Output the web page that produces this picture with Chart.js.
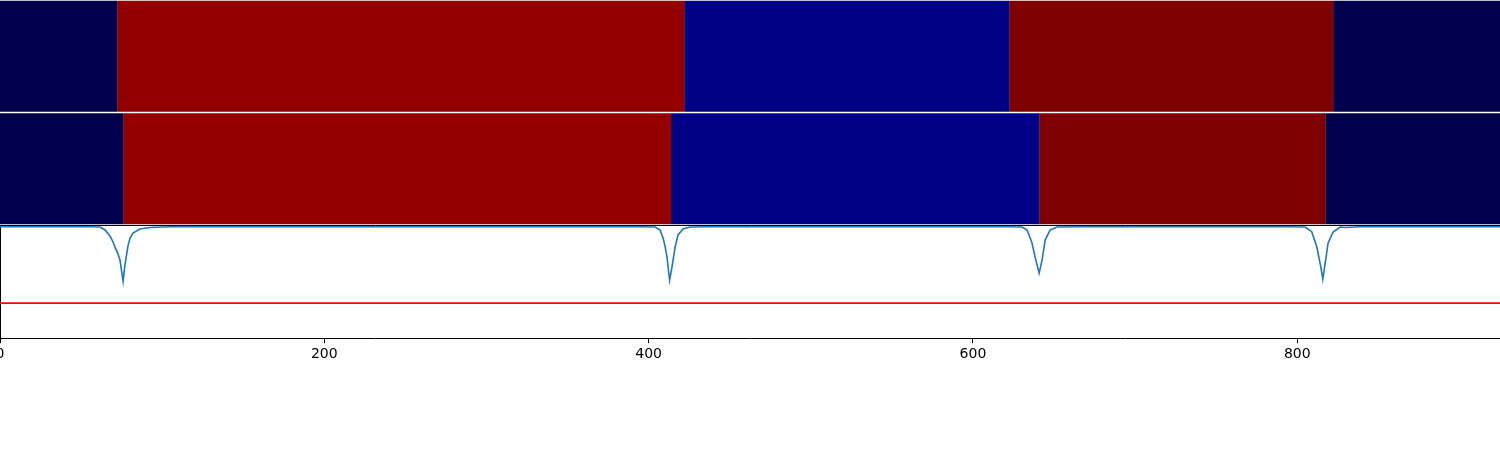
<!DOCTYPE html>
<html>
<head>
<meta charset="utf-8">
<script src="https://cdn.jsdelivr.net/npm/chart.js@4.4.1/dist/chart.umd.min.js"></script>
<style>
  html, body { margin: 0; padding: 0; background: #fff; overflow: hidden; }
  body { width: 1500px; height: 450px; position: relative; }
  #rowsBox { position: absolute; left: 0; top: 0; width: 1500px; height: 225px; }
  #lineBox { position: absolute; left: -50px; top: 225px; width: 1600px; height: 225px; }
</style>
</head>
<body>
<div id="rowsBox"><canvas id="rowsChart"></canvas></div>
<div id="lineBox"><canvas id="lineChart"></canvas></div>
<script>
// x range shared by all three panels
const xMin = 0;
const xMax = 925;
const xTicks = [0, 200, 400, 600, 800];

// segments of the two colour rows, [start, end]
const rowNames = ['top', 'middle'];
const topRow = [[0, 72.2], [72.2, 421.9], [421.9, 622.3], [622.3, 822.1], [822.1, 925]];
const midRow = [[0, 75.9], [75.9, 413.8], [413.8, 640.8], [640.8, 817.2], [817.2, 925]];
const segColors = ['#00004c', '#920000', '#000085', '#7f0000', '#00004c'];

// bottom panel: signal
const signalX = [0, 55.5, 61.7, 64.8, 67.8, 69.7, 70.9, 72.8, 74.0, 74.9, 75.9, 76.8, 77.7, 78.9, 80.2, 82.0, 86.3, 92.5, 104.8,
  394.7, 404.0, 407.0, 408.9, 410.1, 411.3, 412.9, 414.4, 416.3, 418.1, 421.2, 425.5, 437.9,
  622.9, 630.3, 633.4, 636.4, 638.3, 640.8, 642.6, 644.5, 647.6, 651.9, 663.0,
  795.6, 804.8, 808.9, 812.0, 814.5, 815.7, 817.2, 819.0, 822.1, 826.4, 829.5, 838.7, 925];
const signalY = [0.985, 0.985, 0.982, 0.956, 0.903, 0.850, 0.805, 0.743, 0.690, 0.602, 0.504, 0.619, 0.708, 0.814, 0.885, 0.929, 0.965, 0.978, 0.984,
  0.985, 0.982, 0.956, 0.885, 0.814, 0.717, 0.513, 0.628, 0.805, 0.912, 0.965, 0.982, 0.985,
  0.985, 0.982, 0.956, 0.841, 0.717, 0.575, 0.690, 0.867, 0.956, 0.982, 0.985,
  0.985, 0.982, 0.941, 0.808, 0.631, 0.522, 0.664, 0.841, 0.938, 0.982, 0.978, 0.985, 0.985];
const threshold = 0.31;

Chart.defaults.font.family = "'DejaVu Sans', sans-serif";
Chart.defaults.color = '#000';
Chart.defaults.animation = false;

function rowDatasets() {
  return segColors.map((color, i) => ({
    data: [topRow[i], midRow[i]],
    backgroundColor: color,
    borderWidth: 0,
    barPercentage: 0.988,
    categoryPercentage: 1,
    grouped: false
  }));
}

function spineOnly(position, axis) {
  return {
    type: 'linear',
    axis: axis,
    position: position,
    min: axis === 'x' ? xMin : 0,
    max: axis === 'x' ? xMax : 1,
    ticks: { display: false },
    grid: { display: false, drawTicks: false },
    border: { display: true, color: '#000', width: 1 }
  };
}

new Chart(document.getElementById('rowsChart'), {
  type: 'bar',
  data: { labels: rowNames, datasets: rowDatasets() },
  options: {
    indexAxis: 'y',
    responsive: true,
    maintainAspectRatio: false,
    layout: { padding: 0 },
    plugins: { legend: { display: false }, tooltip: { enabled: false } },
    scales: {
      x: { type: 'linear', min: xMin, max: xMax, display: false },
      y: { display: false }
    }
  }
});

const signalPoints = signalX.map((x, i) => ({ x: x, y: signalY[i] }));

new Chart(document.getElementById('lineChart'), {
  type: 'scatter',
  data: {
    datasets: [
      {
        data: signalPoints,
        showLine: true,
        borderColor: '#1f77b4',
        borderWidth: 1.6,
        pointRadius: 0,
        tension: 0
      },
      {
        data: [{ x: xMin, y: threshold }, { x: xMax, y: threshold }],
        showLine: true,
        borderColor: '#ff0000',
        borderWidth: 1.6,
        pointRadius: 0
      }
    ]
  },
  options: {
    responsive: true,
    maintainAspectRatio: false,
    layout: { padding: { left: 50, right: 50, top: 0, bottom: 84 } },
    plugins: { legend: { display: false }, tooltip: { enabled: false } },
    scales: {
      x: {
        type: 'linear',
        position: 'bottom',
        min: xMin,
        max: xMax,
        afterBuildTicks: scale => { scale.ticks = xTicks.map(v => ({ value: v })); },
        ticks: { font: { size: 14 }, color: '#000', padding: 3, maxRotation: 0 },
        grid: { drawOnChartArea: false, drawTicks: true, tickLength: 5, color: '#000' },
        border: { display: true, color: '#000', width: 1 }
      },
      xTop: spineOnly('top', 'x'),
      y: spineOnly('left', 'y'),
      yRight: spineOnly('right', 'y')
    }
  }
});
</script>
</body>
</html>
